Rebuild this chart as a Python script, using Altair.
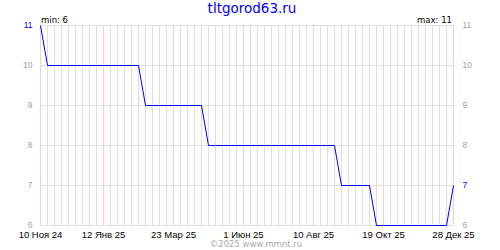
import altair as alt
import pandas as pd

# ---- data ----
start_date = "2024-11-10"
n_weeks = 60
values = [11] + [10] * 14 + [9] * 9 + [8] * 19 + [7] * 5 + [6] * 11 + [7]
label_dates = ["2024-11-10", "2025-01-12", "2025-03-23", "2025-06-01",
               "2025-08-10", "2025-10-19", "2025-12-28"]
y_ticks = [6, 7, 8, 9, 10, 11]
months_ru = ["Янв", "Фев", "Мар", "Апр", "Май", "Июн",
             "Июл", "Авг", "Сен", "Окт", "Ноя", "Дек"]
title_text = "tltgorod63.ru"
footer_text = "©2025 www.mmnt.ru"

dates = pd.date_range(start_date, periods=n_weeks, freq="7D").strftime("%Y-%m-%d")
df = pd.DataFrame({"date": list(dates), "value": values})
grid_df = pd.DataFrame({"date": list(dates)})
pink_df = pd.DataFrame({"date": label_dates})
hgrid_df = pd.DataFrame({"v": y_ticks})

vmin, vmax = min(values), max(values)
first_v, last_v = values[0], values[-1]

def dt(s):
    y, m, d = map(int, s.split("-"))
    return alt.DateTime(year=y, month=m, date=d, utc=True)

xscale = alt.Scale(type="utc", domain=[dt(label_dates[0]), dt(label_dates[-1])])
yscale = alt.Scale(domain=[6, 11], nice=False, zero=False)

month_arr = "[" + ",".join("'%s'" % m for m in months_ru) + "]"
label_expr = ("utcdate(datum.value) + ' ' + " + month_arr +
              "[utcmonth(datum.value)] + ' ' + utcFormat(datum.value, '%y')")

def xaxis():
    return alt.Axis(values=[dt(s) for s in label_dates], labelExpr=label_expr,
                    grid=False, ticks=False, domain=False, title=None,
                    labelFont="Liberation Sans", labelFontSize=9.5, labelColor="black",
                    labelPadding=4, labelFlush=False, labelOverlap=False)

def yaxis(orient, hl, pad):
    return alt.Axis(orient=orient, values=y_ticks, grid=False, ticks=False,
                    domain=False, title=None, labelFont="Liberation Sans",
                    labelFontSize=8.5, labelPadding=pad, labelOffset=-1,
                    labelColor={"condition": {"test": "datum.value == %d" % hl,
                                              "value": "#0000ff"},
                                "value": "#a0a0a0"})

vgrid = alt.Chart(grid_df).mark_rule(color="#dddddd", strokeWidth=1, xOffset=0.5).encode(
    x=alt.X("date:T", scale=xscale, axis=xaxis()))
pgrid = alt.Chart(pink_df).mark_rule(color="#ffcccc", strokeWidth=1, xOffset=0.5).encode(
    x=alt.X("date:T", scale=xscale, axis=xaxis()))
hgrid = alt.Chart(hgrid_df).mark_rule(color="#dddddd", strokeWidth=1, yOffset=0.5).encode(
    y=alt.Y("v:Q", scale=yscale, axis=yaxis("left", first_v, 8)))

line = alt.Chart(df).mark_line(color="#0000ff", strokeWidth=1, xOffset=0.5, yOffset=0.5).encode(
    x=alt.X("date:T", scale=xscale, axis=xaxis()),
    y=alt.Y("value:Q", scale=yscale, axis=yaxis("right", last_v, 9)))

def txt(text, x, y, align, color, size, font="DejaVu Sans"):
    return alt.Chart(pd.DataFrame({"t": [text]})).mark_text(
        align=align, baseline="alphabetic", color=color, fontSize=size, font=font
    ).encode(text="t:N", x=alt.value(x), y=alt.value(y))

title = txt(title_text, 212, -12, "center", "#0000ff", 13.5)
tmin = txt("min: %d" % vmin, 1, -2, "left", "black", 8.5)
tmax = txt("max: %d" % vmax, 412, -2, "right", "black", 8.5)
footer = txt(footer_text, 216, 222, "center", "#aaaaaa", 8.5)

chart = alt.layer(hgrid, vgrid, pgrid, line, title, tmin, tmax, footer).resolve_axis(
    y="independent"
).properties(
    width=413, height=200,
    autosize=alt.AutoSizeParams(type="none"),
    padding={"left": 40, "top": 25, "right": 47, "bottom": 25},
).configure_view(strokeWidth=0)

chart.save("out.html", embed_options={"renderer": "svg", "actions": False})
